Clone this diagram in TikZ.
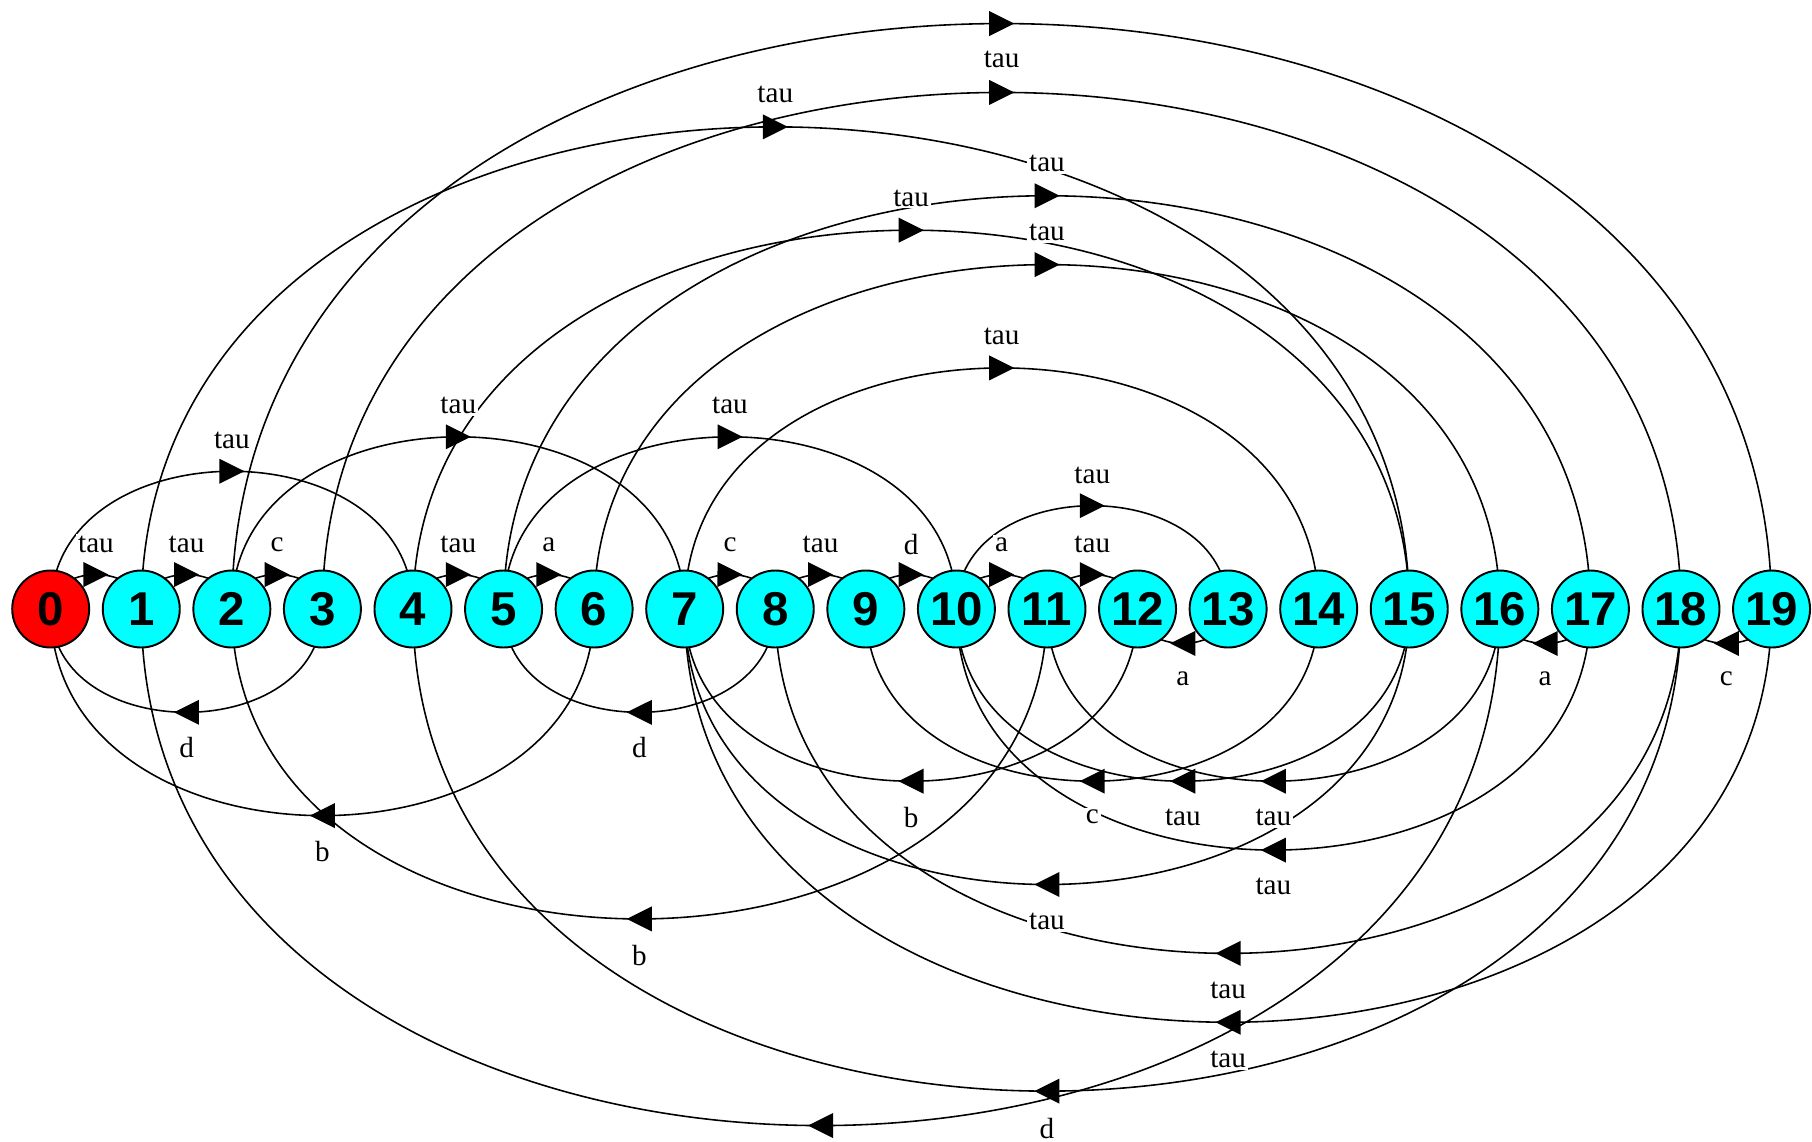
\documentclass[tikz,border=0pt]{standalone}
\usepackage{fontspec}
\setmainfont{Liberation Serif}
\setsansfont{Liberation Sans}
\usepackage{tikz}
\usetikzlibrary{arrows.meta,calc,backgrounds,decorations.markings}
\definecolor{stcyan}{HTML}{00FFFF}
\definecolor{stred}{HTML}{FF0000}
% source/target/action
\newcommand{\translist}{0/1/tau, 1/2/tau, 2/3/c, 4/5/tau, 5/6/a, 7/8/c, 8/9/tau, 9/10/d, 10/11/a, 11/12/tau,
  0/4/tau, 2/7/tau, 5/10/tau, 10/13/tau, 7/14/tau, 6/16/tau, 4/15/tau, 5/17/tau, 1/15/tau, 3/18/tau, 2/19/,
  13/12/a, 17/16/a, 19/18/c, 3/0/d, 8/5/d, 6/0/b, 12/7/b, 14/9/c, 15/10/tau, 16/11/tau, 17/10/tau,
  15/7/tau, 11/2/b, 18/8/tau, 19/7/tau, 18/4/d, 16/1/}
\tikzset{
  state/.style={circle, draw=black, line width=0.55pt, fill=stcyan, minimum size=7.7mm, inner sep=0pt,
                font=\sffamily\bfseries\fontsize{13.5}{14}\selectfont},
  init/.style={state, fill=stred},
  trans/.style={draw=black, line width=0.45pt},
  tip/.style={decorate, decoration={markings, mark=at position 0.5 with
                  {\fill (-1.25mm,-1.25mm) -- (1.25mm,0) -- (-1.25mm,1.25mm) -- cycle;}}},
  lbl/.style={fill=white, inner sep=0.6pt, font=\fontsize{8.3}{9}\selectfont},
}

\begin{document}
\begin{tikzpicture}[x=0.1mm, y=0.1mm]
\useasboundingbox (0,0) rectangle (1812,1141);
% states
\node[init] (s0) at (50.7,532) {0};
\foreach \i in {1,...,19}
  \node[state] (s\i) at (50.7+90.57*\i,532) {\i};
% transitions, under the states
\begin{scope}[on background layer]
\fill[white] (0,0) rectangle (1812,1141);
\foreach \a/\b/\lab in \translist
  \draw[trans] (s\a.center) to[bend left=90, looseness=1.3] (s\b.center);
\end{scope}
% arrow heads and actions
\foreach \a/\b/\lab in \translist {
  \path[tip] (s\a.center) to[bend left=90, looseness=1.3] (s\b.center);
  \edef\tmp{\lab}
  \ifx\tmp\empty\else
    \pgfmathsetmacro\dy{\b>\a ? 34.64*(\b-\a)+30 : -34.64*(\a-\b)-35}
    \node[lbl] (l\a-\b) at ($(s\a)!0.5!(s\b)+(0,\dy)$) {\lab};
  \fi}
\end{tikzpicture}
\end{document}
